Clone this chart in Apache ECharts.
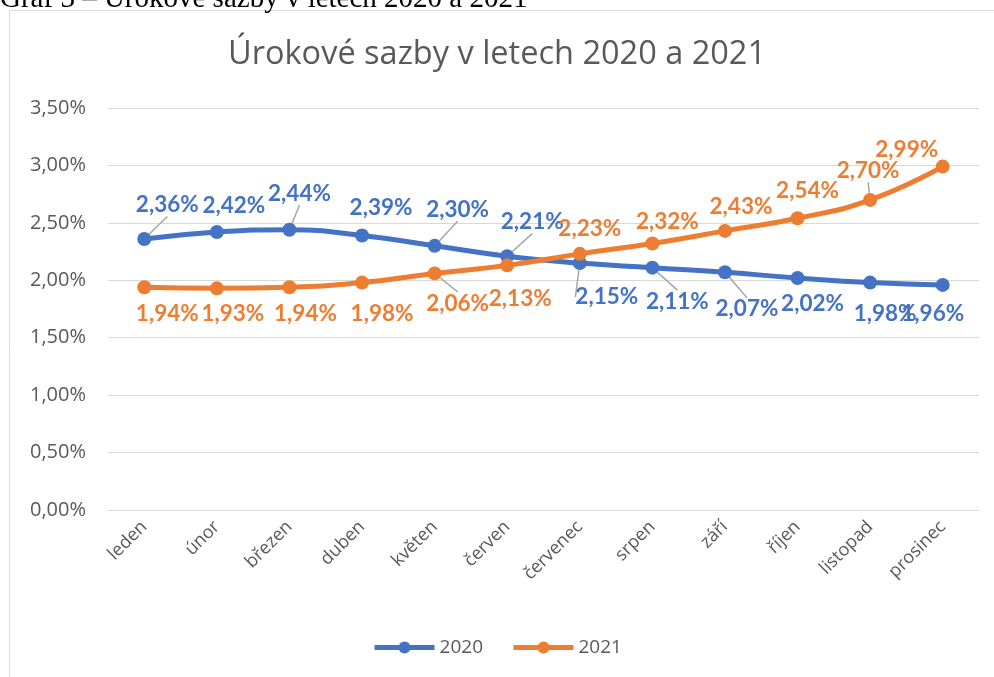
<!DOCTYPE html>
<html>
<head>
<meta charset="utf-8">
<script src="https://cdn.jsdelivr.net/npm/echarts@6/dist/echarts.min.js"></script>
<style>
  html, body { margin: 0; padding: 0; background: #fff; }
  #chart { width: 994px; height: 677px; }
</style>
</head>
<body>
<div id="chart"></div>
<script>
// months
const months = ["leden", "únor", "březen", "duben", "květen", "červen",
	"červenec", "srpen", "září", "říjen", "listopad", "prosinec"]
// rates in %
const rates2020 = [2.36, 2.42, 2.44, 2.39, 2.30, 2.21, 2.15, 2.11, 2.07, 2.02, 1.98, 1.96]
const rates2021 = [1.94, 1.93, 1.94, 1.98, 2.06, 2.13, 2.23, 2.32, 2.43, 2.54, 2.70, 2.99]
const yTicks = [0, 0.5, 1, 1.5, 2, 2.5, 3, 3.5]

// label offsets from the point (px), like the excel labels were dragged
const labelShift = [
	[[23, -34], [17, -26], [10, -36], [19, -28], [23, -36], [25, -34],
		[27, 34], [25, 34], [22, 37], [15, 26], [15, 31], [-10, 29]],
	[[23, 27], [16, 25], [16, 27], [20, 31], [23, 30], [13, 33],
		[10, -25], [15, -22], [16, -24], [10, -28], [-2, -29], [-36, -17]],
]
// which labels get a leader line
const leader = [
	[true, false, true, false, true, true, true, true, true, false, false, false],
	[false, false, false, false, true, false, false, false, false, false, true, false],
]

const fmt = (v) => v.toFixed(2).replace(".", ",") + "%"
const font = "'Open Sans', sans-serif"

const chart = echarts.init(document.getElementById("chart"))

const makeSeries = (name, data, color, idx) => ({
	name: name,
	type: "line",
	smooth: true,
	data: data.map((v, i) => ({ value: v, labelLine: { show: leader[idx][i] } })),
	symbol: "circle",
	symbolSize: 14,
	lineStyle: { width: 5, color: color },
	itemStyle: { color: color },
	label: {
		show: true,
		position: "inside",
		formatter: (p) => fmt(p.value),
		color: color,
		fontFamily: "Lato, sans-serif",
		fontWeight: "bold",
		fontSize: 22.5,
	},
	labelLine: {
		show: true,
		lineStyle: { color: "#a6a6a6", width: 1.5 },
	},
	labelLayout: (p) => {
		const s = labelShift[idx][p.dataIndex]
		const cx = p.rect.x + p.rect.width / 2
		const cy = p.rect.y + p.rect.height / 2
		return { x: cx + s[0], y: cy + s[1], align: "center", verticalAlign: "middle" }
	},
	z: idx === 1 ? 3 : 2,
})

chart.setOption({
	animation: false,
	textStyle: { fontFamily: font },
	title: {
		text: "Úrokové sazby v letech 2020 a 2021",
		left: "center",
		top: 33,
		textStyle: { fontFamily: font, fontSize: 32.5, fontWeight: "normal", color: "#595959" },
	},
	graphic: [
		{
			type: "rect",
			shape: { x: 9.5, y: 10.5, width: 1000, height: 700 },
			style: { fill: "none", stroke: "#d9d9d9", lineWidth: 1 },
			silent: true,
		},
		{
			type: "text",
			x: 0,
			y: 14,
			style: {
				text: "Graf 3 – Úrokové sazby v letech 2020 a 2021",
				font: "29px 'Liberation Serif', serif",
				fill: "#000",
				textVerticalAlign: "bottom",
			},
			silent: true,
		},
	],
	legend: {
		bottom: 15,
		left: "center",
		itemWidth: 60,
		itemHeight: 15,
		itemGap: 28,
		lineStyle: { width: 5 },
		textStyle: { fontSize: 19, color: "#595959", fontFamily: font },
		data: ["2020", "2021"],
	},
	grid: { left: 108, right: 15, top: 108, bottom: 167 },
	xAxis: {
		type: "category",
		data: months,
		axisLine: { lineStyle: { color: "#d9d9d9" } },
		axisTick: { show: false },
		axisLabel: {
			rotate: 45,
			interval: 0,
			color: "#595959",
			fontSize: 18,
			margin: 14,
			fontFamily: font,
		},
	},
	yAxis: {
		type: "value",
		min: yTicks[0],
		max: yTicks[yTicks.length - 1],
		interval: 0.5,
		axisLine: { show: false },
		axisTick: { show: false },
		splitLine: { lineStyle: { color: "#d9d9d9", width: 1 } },
		axisLabel: {
			formatter: (v) => fmt(v),
			color: "#595959",
			fontSize: 20,
			margin: 22,
			fontFamily: font,
		},
	},
	series: [
		makeSeries("2020", rates2020, "#4472C4", 0),
		makeSeries("2021", rates2021, "#ED7D31", 1),
	],
})
</script>
</body>
</html>
